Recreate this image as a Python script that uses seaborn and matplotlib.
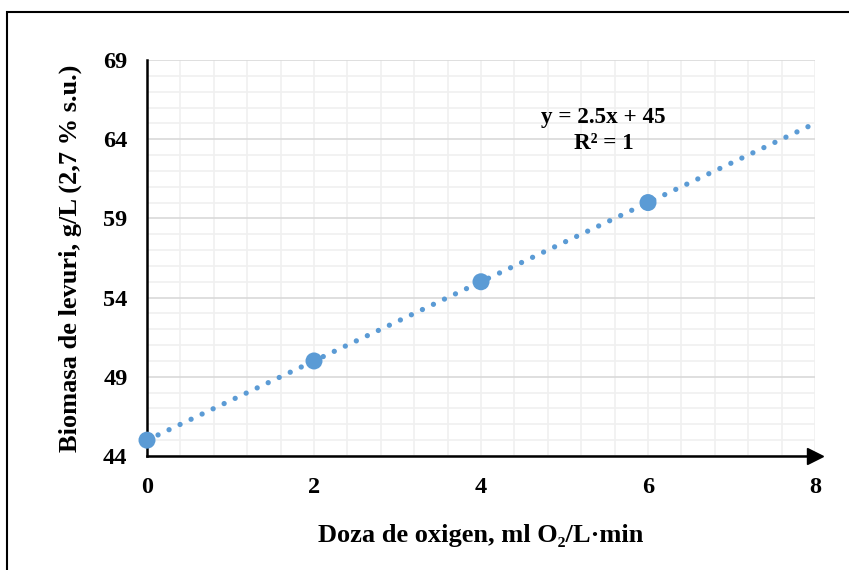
import numpy as np
import pandas as pd
import matplotlib.pyplot as plt
import seaborn as sns
from matplotlib.patches import Rectangle
from matplotlib.ticker import MultipleLocator

# Datos: doza de oxigen vs biomasa
doza = [0, 2, 4, 6]
biomasa = [45, 50, 55, 60]
x_ticks = [0, 2, 4, 6, 8]
y_ticks = [44, 49, 54, 59, 64, 69]

df = pd.DataFrame({'doza': doza, 'biomasa': biomasa})

# Linia de tendinta (regresie liniara)
panta, intercept = np.polyfit(doza, biomasa, 1)
trend_x = [0, 8]
trend = pd.DataFrame({'x': trend_x, 'y': [panta * v + intercept for v in trend_x]})

sns.set_style('white')
plt.rcParams['font.family'] = ['Liberation Serif', 'DejaVu Serif']
plt.rcParams['font.weight'] = 'bold'
plt.rcParams['text.color'] = 'black'
plt.rcParams['axes.labelcolor'] = 'black'
plt.rcParams['xtick.color'] = 'black'
plt.rcParams['ytick.color'] = 'black'

albastru = '#5b9bd5'

fig = plt.figure(figsize=(8.49, 5.70), dpi=100)
ax = fig.add_axes([147 / 849, 1 - 456 / 570, (815 - 147) / 849, (456 - 60) / 570])

sns.lineplot(data=trend, x='x', y='y', ax=ax, color=albastru, lw=3.8,
             linestyle=(0, (0.01, 2.3)), dash_capstyle='round', zorder=3)
sns.scatterplot(data=df, x='doza', y='biomasa', ax=ax, color=albastru, s=150,
                edgecolor='none', zorder=4, clip_on=False)

ax.set_xlim(0, 8)
ax.set_ylim(44, 69)
ax.set_xticks(x_ticks)
ax.set_yticks(y_ticks)
ax.xaxis.set_minor_locator(MultipleLocator(0.4))
ax.yaxis.set_minor_locator(MultipleLocator(1))

ax.grid(which='minor', color='#f0f0f0', lw=1.2)
ax.grid(which='major', axis='y', color='#d9d9d9', lw=1.2)
ax.grid(which='major', axis='x', color='#f0f0f0', lw=1.2)
ax.set_axisbelow(True)

for s in ['top', 'right']:
    ax.spines[s].set_visible(False)
for s in ['left', 'bottom']:
    ax.spines[s].set_color('black')
    ax.spines[s].set_linewidth(1.8)

ax.tick_params(which='major', direction='out', length=5, width=1.3, color='black',
               labelsize=17.5, labelcolor='black')
ax.tick_params(which='minor', length=0)
ax.tick_params(axis='y', pad=9)
ax.tick_params(axis='x', pad=10)
for lbl in ax.get_xticklabels() + ax.get_yticklabels():
    lbl.set_fontweight('bold')

# Sageata la capatul axei x
ax.plot([1], [0], marker='>', markersize=12, color='black', transform=ax.transAxes,
        clip_on=False, zorder=5)

ax.set_xlabel('Doza de oxigen, ml O\u2082/L\u00b7min', fontsize=19, fontweight='bold',
              color='black', labelpad=19)
ax.set_ylabel('Biomasa de levuri, g/L (2,7 % s.u.)', fontsize=19, fontweight='bold',
              color='black', labelpad=15)

ax.text(5.47, 65.4, 'y = 2.5x + 45', fontsize=16.7, fontweight='bold', ha='center', va='center')
ax.text(5.47, 63.75, 'R\u00b2 = 1', fontsize=16.7, fontweight='bold', ha='center', va='center')

# Chenar in jurul figurii
fig.patches.append(Rectangle((7 / 849, -0.05), 1.1, 1 - 12 / 570 + 0.05, transform=fig.transFigure,
                             fill=False, edgecolor='black', lw=1.5))

fig.savefig('out.png', dpi=100)
plt.close(fig)
